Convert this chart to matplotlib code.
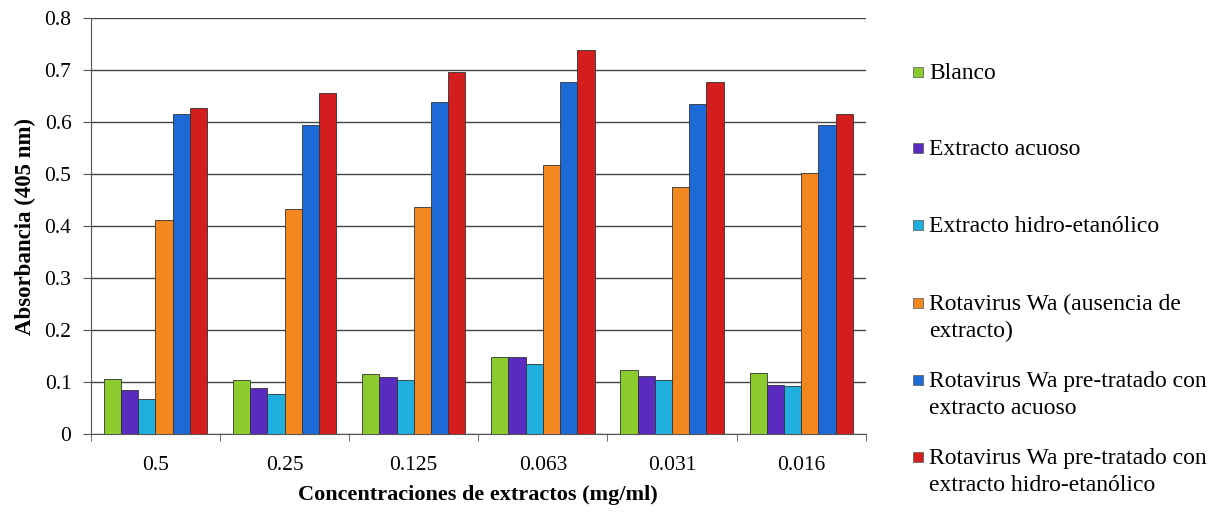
import matplotlib
matplotlib.use("Agg")
import matplotlib.pyplot as plt
from matplotlib.patches import Rectangle
import numpy as np

categories = ["0.5", "0.25", "0.125", "0.063", "0.031", "0.016"]
series_names = [
    "Blanco",
    "Extracto acuoso",
    "Extracto hidro-etanólico",
    "Rotavirus Wa (ausencia de\nextracto)",
    "Rotavirus Wa pre-tratado con\nextracto acuoso",
    "Rotavirus Wa pre-tratado con\nextracto hidro-etanólico",
]
blanco = [0.107, 0.104, 0.115, 0.149, 0.124, 0.118]
extracto_acuoso = [0.084, 0.088, 0.109, 0.149, 0.112, 0.094]
extracto_hidro = [0.067, 0.078, 0.104, 0.135, 0.104, 0.092]
rota_sin = [0.411, 0.433, 0.437, 0.518, 0.475, 0.501]
rota_acuoso = [0.615, 0.594, 0.638, 0.677, 0.634, 0.594]
rota_hidro = [0.627, 0.655, 0.696, 0.738, 0.677, 0.615]
series = [blanco, extracto_acuoso, extracto_hidro, rota_sin, rota_acuoso, rota_hidro]
colors = ["#8CCB2E", "#5A2BBF", "#1FAEDD", "#F2871F", "#1D6AD6", "#D41E1E"]
yticks = [0, 0.1, 0.2, 0.3, 0.4, 0.5, 0.6, 0.7, 0.8]

plt.rcParams["font.family"] = ["Liberation Serif", "DejaVu Serif"]

fig = plt.figure(figsize=(12.28, 5.12), dpi=100)
ax = fig.add_axes([0.074, 0.152, 0.631, 0.813])

n = len(series)
width = 0.8 / n
x = np.arange(len(categories))
for i, (vals, c) in enumerate(zip(series, colors)):
    ax.bar(x - 0.4 + width * (i + 0.5), vals, width, color=c,
           edgecolor="#333333", linewidth=0.6, zorder=3)

ax.set_xlim(-0.5, len(categories) - 0.5)
ax.set_ylim(0, 0.8)
ax.set_yticks(yticks)
ax.set_yticklabels(["0"] + [f"{v:.1f}" for v in yticks[1:]], fontsize=15.5)
ax.set_xticks(x)
ax.set_xticklabels(categories, fontsize=15.5)
ax.tick_params(axis="x", length=0, pad=16)
ax.tick_params(axis="y", length=6, pad=8, color="#555555")
ax.set_xticks(np.arange(len(categories) + 1) - 0.5, minor=True)
ax.tick_params(axis="x", which="minor", length=5, color="#555555")
ax.grid(axis="y", color="#444444", linewidth=1.0, zorder=0)
for s in ["top", "right"]:
    ax.spines[s].set_visible(False)
ax.spines["left"].set_color("#555555")
ax.spines["bottom"].set_color("#555555")

ax.set_ylabel("Absorbancia (405 nm)", fontsize=16.5, fontweight="bold", labelpad=6)
ax.set_xlabel("Concentraciones de extractos (mg/ml)", fontsize=16,
              fontweight="bold", labelpad=7)

# legend: square handle beside the first line of each entry
W, H = 1228, 512
entry_y = [72, 148, 225, 303, 380, 457]
line_step = 27
for name, c, yp in zip(series_names, colors, entry_y):
    fig.patches.append(Rectangle((913 / W, 1 - (yp + 5) / H), 10 / W, 10 / H,
                                 transform=fig.transFigure, facecolor=c,
                                 edgecolor="#555555", linewidth=0.5))
    for k, line in enumerate(name.split("\n")):
        fig.text(929 / W, 1 - (yp + 7 + k * line_step) / H, line, fontsize=17,
                 va="baseline", ha="left")

fig.savefig("out.png", dpi=100, facecolor="white")
